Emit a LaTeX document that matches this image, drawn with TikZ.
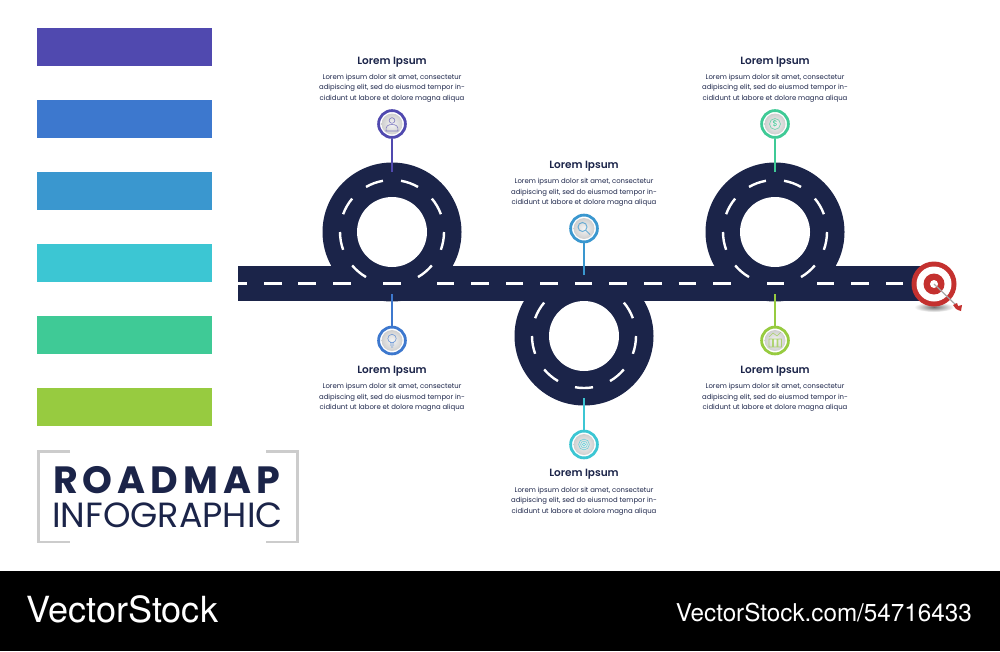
\documentclass[tikz,border=0pt]{standalone}
\usepackage{fontspec}
\usepackage{graphicx}
\setmainfont{Poppins}
\newfontfamily\popsemi{Poppins SemiBold}
\newfontfamily\vsfont{TeX Gyre Heros}
\usetikzlibrary{calc}
\definecolor{navy}{HTML}{1B2449}
\definecolor{cA}{HTML}{5049AF}
\definecolor{cB}{HTML}{3D78CE}
\definecolor{cC}{HTML}{3A97CF}
\definecolor{cD}{HTML}{3CC6D3}
\definecolor{cE}{HTML}{3FCA96}
\definecolor{cF}{HTML}{97CB40}
\definecolor{target}{HTML}{C4312F}
\tikzset{
 x=1pt,y=-1pt,
 band/.style={minimum width=175pt,minimum height=38pt,inner sep=0pt,anchor=north west},
 head/.style={font=\popsemi\fontsize{10.5}{12}\selectfont,text=navy,inner sep=0pt},
 body/.style={font=\fontsize{6.9}{10.4}\selectfont,text=navy,align=center,inner sep=0pt},
 pin/.style={circle,minimum size=26.8pt,inner sep=0pt,line width=2.8pt,draw=#1,fill=white},
 disc/.style={inner color=black!4,outer color=black!19},
 stem/.style={line width=2.9pt},
 dashw/.style={white,line width=2.4pt},
 glyph/.style={line width=.6pt,fill=none,opacity=.7},
}
\begin{document}
\begin{tikzpicture}
\useasboundingbox (0,0) rectangle (1000,651);
\fill[white] (0,0) rectangle (1000,651);
% colour bands
\node[band,fill=cA] (b1) at (37,28) {};
\node[band,fill=cB] (b2) at (37,100) {};
\node[band,fill=cC] (b3) at (37,172) {};
\node[band,fill=cD] (b4) at (37,244) {};
\node[band,fill=cE] (b5) at (37,316) {};
\node[band,fill=cF] (b6) at (37,388) {};
% road
\fill[navy] (238,266) rectangle (925,301);
\fill[navy] (392,232) circle[radius=69.5];
\fill[navy] (584,336) circle[radius=69.5];
\fill[navy] (775,232) circle[radius=69.5];
\fill[white] (392,232) circle[radius=35];
\fill[white] (584,336) circle[radius=35];
\fill[white] (775,232) circle[radius=35];
\foreach \cx/\cy in {392/232,775/232}{
 \foreach \a in {60,20,-20,-60,100,140,180,220}{
  \draw[dashw] ({\cx+52*cos(\a)},{\cy-52*sin(\a)}) arc[start angle=-\a,delta angle=-20,radius=52];
 }}
\foreach \a in {20,-20,-60,-100,220,180,140}{
  \draw[dashw] ({584+52*cos(\a)},{336-52*sin(\a)}) arc[start angle=-\a,delta angle=-20,radius=52];
}
% centre line
\foreach \s/\e in {238/246.7,264/281.7,298.3/316,333/350.7,383/400.7,437/454.3,471.3/489,506/523,540/558,575/592,609.3/627,644/661.7,678.7/696.3,713.3/731,767/784.3,817/834.3,851.3/869,886/903.3}{
 \draw[dashw] (\s,283.5) -- (\e,283.5);
}
% stems
\coordinate (s1) at (392,171.5);
\coordinate (s2) at (392,294);
\coordinate (s3) at (584,275);
\coordinate (s4) at (584,398);
\coordinate (s5) at (775,171.5);
\coordinate (s6) at (775,294);
\node[pin=cA] (p1) at (392,124) {};
\node[pin=cB] (p2) at (392,340.5) {};
\node[pin=cC] (p3) at (584,228.5) {};
\node[pin=cD] (p4) at (584,444.5) {};
\node[pin=cE] (p5) at (775,124) {};
\node[pin=cF] (p6) at (775,340.5) {};
\draw[stem,cA] (p1) -- (s1);
\draw[stem,cB] (p2) -- (s2);
\draw[stem,cC] (p3) -- (s3);
\draw[stem,cD] (p4) -- (s4);
\draw[stem,cE] (p5) -- (s5);
\draw[stem,cF] (p6) -- (s6);
\foreach \n in {p1,p2,p3,p4,p5,p6}{
 \shade[disc] (\n) circle[radius=10.5];
}
% icons
\draw[glyph,cA] (392,120.5) circle[radius=2.8] (386,131) -- (398,131) .. controls (398.5,126) and (396,124.5) .. (392,124.5) .. controls (388,124.5) and (385.5,126) .. (386,131) -- cycle;
\draw[glyph,cB] (392,338.5) circle[radius=4.2] (390,343) -- (394,343) (390,345) -- (394,345) (391,347) -- (393,347);
\draw[glyph,cC,line width=1pt] (582.5,227) circle[radius=4.5] (586,230.5) -- (590,234.5);
\draw[glyph,cD] (584,444.5) circle[radius=1.6] (584,444.5) circle[radius=3.4] (584,444.5) circle[radius=5.4];
\draw[glyph,cE] (775,124) circle[radius=5.5];
\node[font=\fontsize{8}{8}\selectfont,text=cE,inner sep=0pt] (d5) at (775,124) {\$};
\draw[glyph,cF] (769,347) rectangle (772.5,339) (773.5,347) rectangle (777,339) (778,347) rectangle (781.5,339) (769,337) -- (773,333) -- (777,336) -- (781,332);
% target
\shade[inner color=black!55,outer color=white] (934,307) ellipse[x radius=20,y radius=5];
\fill[target] (934,284) circle[radius=22.5];
\fill[white] (934,284) circle[radius=17.5];
\fill[target] (934,284) circle[radius=10.5];
\fill[white] (934,284) circle[radius=4];
\draw[black!35,line width=1.2pt] (934,284) -- (957,306);
\fill[target] (953,305) -- (957,303) -- (958,306) -- (962,305) -- (961,311) -- (958,310) -- (956,309) -- cycle;
% texts
\newcommand{\lipsum}{Lorem ipsum dolor sit amet, consectetur\\adipiscing elit, sed do eiusmod tempor in-\\cididunt ut labore et dolore magna aliqua}
\node[head] (h1) at (392,62) {Lorem Ipsum};
\node[body] (t1) at (392,88) {\lipsum};
\node[head] (h2) at (392,371) {Lorem Ipsum};
\node[body] (t2) at (392,397.5) {\lipsum};
\node[head] (h3) at (584,166) {Lorem Ipsum};
\node[body] (t3) at (584,192.5) {\lipsum};
\node[head] (h4) at (584,474.5) {Lorem Ipsum};
\node[body] (t4) at (584,501) {\lipsum};
\node[head] (h5) at (775,62) {Lorem Ipsum};
\node[body] (t5) at (775,88) {\lipsum};
\node[head] (h6) at (775,371) {Lorem Ipsum};
\node[body] (t6) at (775,397.5) {\lipsum};
% title
\draw[black!20,line width=2.2pt] (70,451.5) -- (38.5,451.5) -- (38.5,542) -- (70,542);
\draw[black!20,line width=2.2pt] (266,451.5) -- (297.5,451.5) -- (297.5,542) -- (266,542);
\node[font=\bfseries\fontsize{38}{38}\selectfont,text=navy,inner sep=0pt,anchor=base west] (tt1) at (53,493.5) {\addfontfeature{LetterSpace=13}ROADMAP};
\node[font=\fontsize{35}{35}\selectfont,text=navy,inner sep=0pt,anchor=base west] (tt2) at (52,527.5) {INFOGRAPHIC};
% footer
\fill[black] (0,571) rectangle (1000,651);
\node[text=white,inner sep=0pt,anchor=base west] (vs1) at (26,622) {\resizebox{192pt}{\height}{\vsfont\fontsize{36}{36}\selectfont VectorStock}};
\node[text=white,inner sep=0pt,anchor=base east] (vs2) at (972,621.5) {\resizebox{296pt}{\height}{\vsfont\fontsize{24.5}{24.5}\selectfont VectorStock.com/54716433}};
\end{tikzpicture}
\end{document}
